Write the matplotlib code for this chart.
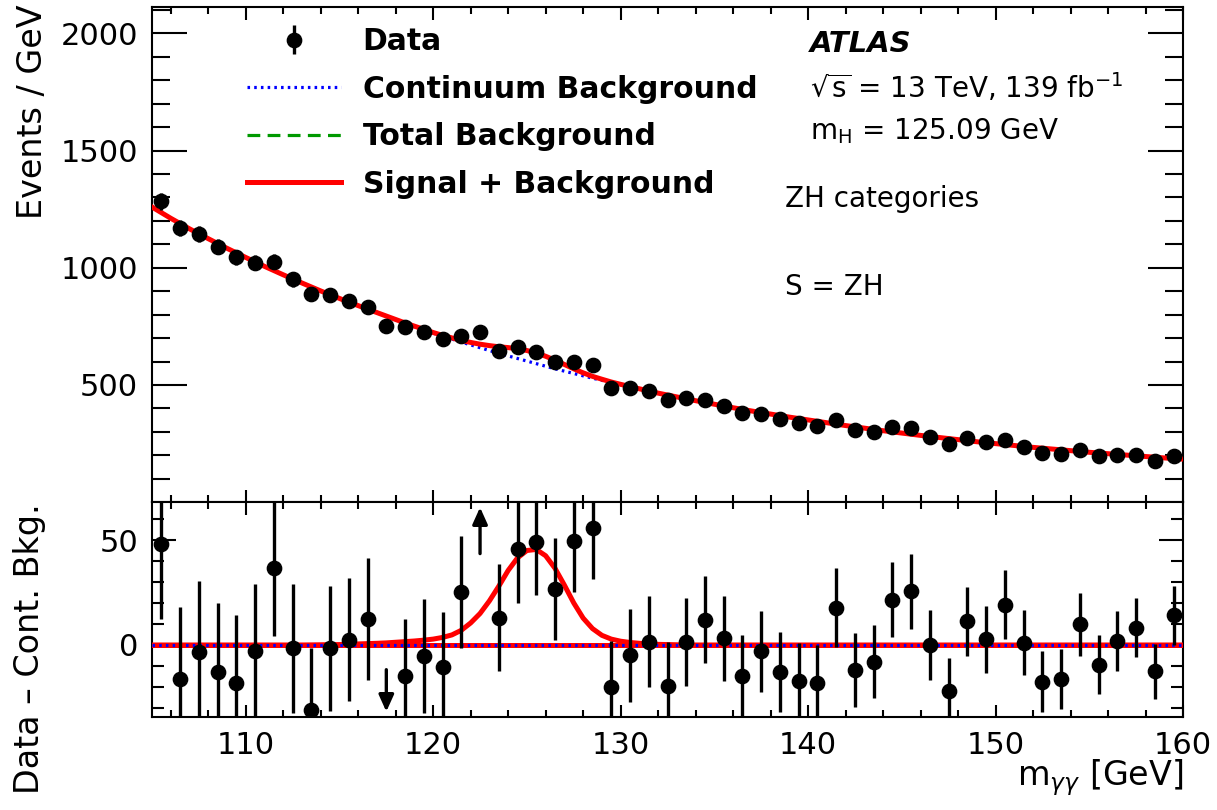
import numpy as np
import matplotlib
matplotlib.use("Agg")
import matplotlib.pyplot as plt
from matplotlib.ticker import MultipleLocator, FixedLocator
import matplotlib.transforms as mtransforms

plt.rcParams['font.family'] = ['DejaVu Sans']
plt.rcParams['mathtext.fontset'] = 'dejavusans'

# ---------------- data ----------------
bin_centers = [105.5, 106.5, 107.5, 108.5, 109.5, 110.5, 111.5, 112.5, 113.5, 114.5,
               115.5, 116.5, 117.5, 118.5, 119.5, 120.5, 121.5, 122.5, 123.5, 124.5,
               125.5, 126.5, 127.5, 128.5, 129.5, 130.5, 131.5, 132.5, 133.5, 134.5,
               135.5, 136.5, 137.5, 138.5, 139.5, 140.5, 141.5, 142.5, 143.5, 144.5,
               145.5, 146.5, 147.5, 148.5, 149.5, 150.5, 151.5, 152.5, 153.5, 154.5,
               155.5, 156.5, 157.5, 158.5, 159.5]

events = [1283, 1171, 1143, 1090, 1045, 1021, 1025, 950, 886, 883,
          857, 834, 753, 748, 728, 697, 709, 728, 647, 660,
          640, 596, 600, 586, 489, 486, 474, 436, 443, 436,
          411, 381, 378, 357, 340, 324, 350, 307, 300, 322,
          315, 280, 248, 272, 255, 265, 236, 210, 204, 224,
          197, 203, 203, 174, 197]

event_errors = [35.8, 34.2, 33.8, 33.0, 32.3, 32.0, 32.0, 30.8, 29.8, 29.7,
                29.3, 28.9, 27.4, 27.3, 27.0, 26.4, 26.6, 27.0, 25.4, 25.7,
                25.3, 24.4, 24.5, 24.2, 22.1, 22.0, 21.8, 20.9, 21.0, 20.9,
                20.3, 19.5, 19.4, 18.9, 18.4, 18.0, 18.7, 17.5, 17.3, 17.9,
                17.7, 16.7, 15.7, 16.5, 16.0, 16.3, 15.4, 14.5, 14.3, 15.0,
                14.0, 14.2, 14.2, 13.2, 14.0]

residuals = [48, -16, -3.5, -13, -18, -3, 36.5, -1.6, -31, -1.6,
             2.4, 12.3, -40, -15, -5.2, -10.5, 25.2, 73, 13, 45.6,
             49.2, 26.7, 49.5, 55.8, -20.1, -5, 1.6, -19.7, 1.6, 12.1,
             3.1, -14.9, -3.1, -12.9, -17.3, -18.1, 17.8, -11.8, -7.9, 21.5,
             25.5, 0, -21.7, 11.3, 2.8, 19.2, 1.1, -17.6, -16, 9.9,
             -9.4, 2, 8.3, -12.6, 14.2]

curve_x = [105, 106, 107, 108, 109, 110, 111, 112, 113, 114, 115,
           115.5, 116, 116.5, 117, 117.5, 118, 118.5, 119, 119.5, 120,
           120.5, 121, 121.5, 122, 122.5, 123, 123.5, 124, 124.5, 125,
           125.5, 126, 126.5, 127, 127.5, 128, 128.5, 129, 129.5, 130,
           130.5, 131, 131.5, 132, 132.5, 133, 133.5, 134,
           135, 136, 137, 138, 139, 140, 141, 142, 143, 144, 145, 146, 147,
           148, 149, 150, 151, 152, 153, 154, 155, 156, 157, 158, 159, 160]

continuum_bkg = [1259, 1211, 1166, 1124, 1083, 1044, 1006, 970, 935, 901, 869,
                 853, 838, 823, 808, 793, 778, 763, 749, 735, 721,
                 708, 696, 683, 671, 659, 647, 635, 624, 613, 602,
                 591, 580, 569, 559, 549, 539, 529, 520, 510, 501,
                 492, 483, 474, 465, 457, 449, 441, 433,
                 418, 403, 389, 376, 363, 351, 339, 327, 316, 305, 295, 285, 276,
                 267, 258, 250, 242, 234, 227, 220, 213, 207, 201, 195, 189, 184]

signal = [0, 0, 0, 0, 0, 0, 0, 0, 0, 0.1, 0.2,
          0.35, 0.5, 0.65, 0.8, 1.0, 1.3, 1.6, 1.9, 2.3, 2.8,
          3.6, 4.8, 7.0, 10.5, 15.0, 21.0, 28.0, 35.5, 41.5, 45.0,
          45.5, 42.5, 36.5, 28.5, 20.0, 12.8, 7.8, 4.6, 2.8, 1.8,
          1.2, 0.8, 0.5, 0.3, 0.2, 0.1, 0.05, 0,
          0, 0, 0, 0, 0, 0, 0, 0, 0, 0, 0, 0, 0,
          0, 0, 0, 0, 0, 0, 0, 0, 0, 0, 0, 0, 0]

# ---------------- figure ----------------
W_PX, H_PX = 1217, 810
fig = plt.figure(figsize=(W_PX / 100, H_PX / 100), dpi=100)
left = 152 / W_PX
width = (1183 - 152) / W_PX
ax1 = fig.add_axes([left, 1 - 502 / H_PX, width, (502 - 7) / H_PX])
ax2 = fig.add_axes([left, 1 - 717 / H_PX, width, (717 - 502) / H_PX], sharex=ax1)

x = np.array(bin_centers)
y = np.array(events)
ey = np.array(event_errors)
r = np.array(residuals)
cx = np.array(curve_x)
cb = np.array(continuum_bkg)
cs = np.array(signal)

RED = '#ff0000'
BLUE = '#0000ff'
GREEN = '#009900'
dot_style = (0, (0.8, 1.3))
dash_style = (0, (4, 2.3))
MS = 10.3

# upper panel
ax1.plot(cx, cb, color=BLUE, lw=2.3, linestyle=dot_style, zorder=2,
         label='Continuum Background')
ax1.plot(cx, cb + cs, color=GREEN, lw=2.3, linestyle=dash_style, zorder=2.5,
         label='Total Background')
ax1.plot(cx, cb + cs, color=RED, lw=3.6, zorder=3, label='Signal + Background')
ax1.errorbar(x, y, yerr=ey, fmt='o', color='black', ms=MS, elinewidth=2.4,
             capsize=0, zorder=5, label='Data')

ax1.set_xlim(105, 160)
ax1.set_ylim(1, 2112)
ax1.yaxis.set_major_locator(FixedLocator([500, 1000, 1500, 2000]))
ax1.yaxis.set_minor_locator(MultipleLocator(100))
ax1.xaxis.set_major_locator(MultipleLocator(10))
ax1.xaxis.set_minor_locator(MultipleLocator(2))
ax1.tick_params(axis='x', labelbottom=False)

# legend
h, l = ax1.get_legend_handles_labels()
order = [3, 0, 1, 2]
leg = ax1.legend([h[i] for i in order], [l[i] for i in order],
                 loc='upper left', bbox_to_anchor=(247 / W_PX, 1 - 27 / H_PX),
                 bbox_transform=fig.transFigure, frameon=False,
                 prop={'weight': 'bold', 'size': 21.5},
                 handlelength=3.15, handletextpad=0.72, labelspacing=0.62,
                 borderpad=0, borderaxespad=0)

# text block
fig.text(810 / W_PX, 1 - 44 / H_PX, 'ATLAS', fontsize=21, weight='bold',
         style='italic', va='center', ha='left')
fig.text(810 / W_PX, 1 - 88 / H_PX, r'$\sqrt{\mathrm{s}}$ = 13 TeV, 139 fb$^{-1}$',
         fontsize=20, va='center', ha='left')
fig.text(810 / W_PX, 1 - 131 / H_PX, r'm$_{\mathrm{H}}$ = 125.09 GeV',
         fontsize=20, va='center', ha='left')
fig.text(785 / W_PX, 1 - 199 / H_PX, 'ZH categories', fontsize=20,
         va='center', ha='left')
fig.text(785 / W_PX, 1 - 287 / H_PX, 'S = ZH', fontsize=20,
         va='center', ha='left')

# lower panel
ax2.plot(cx, cs, color=GREEN, lw=2.3, linestyle=dash_style, zorder=2)
ax2.plot(cx, cs, color=RED, lw=3.6, zorder=3)
ax2.plot(cx, np.zeros_like(cx, dtype=float), color=RED, lw=3.6, zorder=3)
ax2.plot(cx, np.zeros_like(cx, dtype=float), color=BLUE, lw=2.3,
         linestyle=dot_style, zorder=4)

ylo, yhi = -34.3, 68.1
inside = (r > ylo) & (r < yhi)
ax2.errorbar(x[inside], r[inside], yerr=ey[inside], fmt='o', color='black',
             ms=MS, elinewidth=2.4, capsize=0, zorder=5)
blend = mtransforms.blended_transform_factory(ax2.transData, ax2.transAxes)
arrow_kw = dict(arrowstyle='-|>,head_length=1.0,head_width=0.45',
                color='black', lw=2.4, shrinkA=0, shrinkB=0)
for xi, ri in zip(x, r):
    if ri >= yhi:
        ax2.annotate('', xy=(xi, 0.975), xytext=(xi, 0.76), xycoords=blend,
                     textcoords=blend, arrowprops=arrow_kw)
    elif ri <= ylo:
        ax2.annotate('', xy=(xi, 0.025), xytext=(xi, 0.22), xycoords=blend,
                     textcoords=blend, arrowprops=arrow_kw)

ax2.set_xlim(105, 160)
ax2.set_ylim(ylo, yhi)
ax2.yaxis.set_major_locator(MultipleLocator(50))
ax2.yaxis.set_minor_locator(MultipleLocator(10))
ax2.xaxis.set_major_locator(MultipleLocator(10))
ax2.xaxis.set_minor_locator(MultipleLocator(2))

for ax, ymaj, ymin in ((ax1, 25, 13), (ax2, 17, 8.6)):
    for s in ax.spines.values():
        s.set_linewidth(1.5)
    ax.tick_params(axis='both', which='both', direction='in', top=True,
                   right=True, width=1.5, labelsize=22, colors='black')
    ax.tick_params(axis='y', which='major', length=ymaj, pad=10)
    ax.tick_params(axis='y', which='minor', length=ymin)
    ax.tick_params(axis='x', which='major', length=9, pad=10)
    ax.tick_params(axis='x', which='minor', length=5)

# axis titles
fig.text(33 / W_PX, 1 - 4 / H_PX, 'Events / GeV', rotation=90, fontsize=24,
         ha='center', va='top')
fig.text(30 / W_PX, 1 - 503 / H_PX, 'Data \u2013 Cont. Bkg.', rotation=90,
         fontsize=24, ha='center', va='top')
fig.text(1183 / W_PX, 1 - 778 / H_PX, r'm$_{\gamma\gamma}$ [GeV]', fontsize=24,
         ha='right', va='center')

fig.savefig('out.png', dpi=100)
